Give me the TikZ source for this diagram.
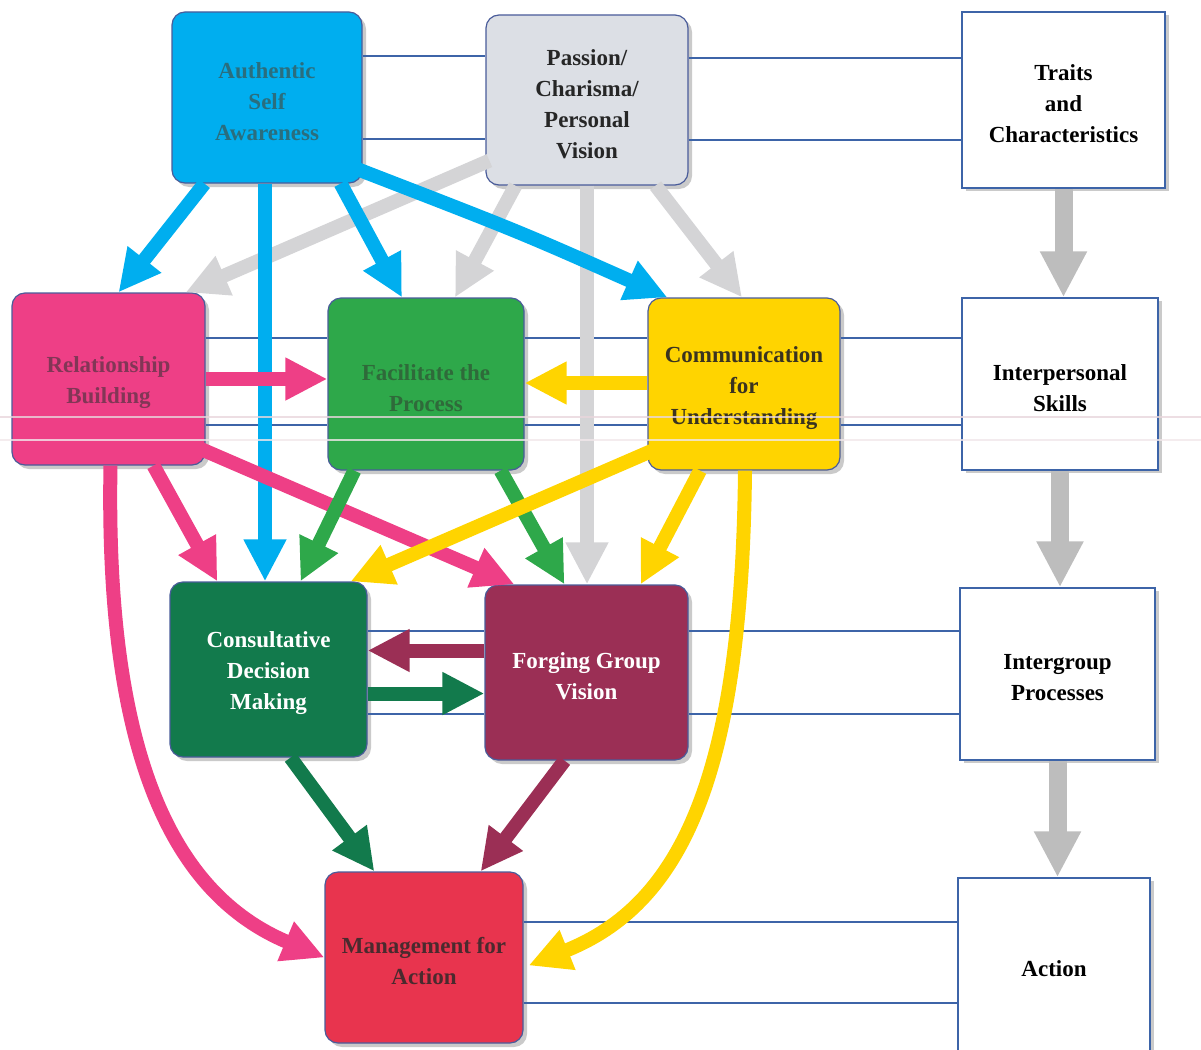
\documentclass[tikz,border=0pt]{standalone}
\usepackage{fontspec}
\setmainfont{Liberation Serif}
\usetikzlibrary{arrows.meta,calc,shadows}

\definecolor{cyanA}{HTML}{00AEEF}
\definecolor{greyBox}{HTML}{DCDFE5}
\definecolor{greyA}{HTML}{D4D4D6}
\definecolor{greyR}{HTML}{BDBDBD}
\definecolor{pinkA}{HTML}{EE3F86}
\definecolor{greenA}{HTML}{2EA84A}
\definecolor{yellowA}{HTML}{FFD400}
\definecolor{dgreenA}{HTML}{127A4C}
\definecolor{maroonA}{HTML}{9B2F55}
\definecolor{redA}{HTML}{E8344E}
\definecolor{lineBlue}{HTML}{3D64A8}
\definecolor{edgeBlue}{HTML}{4A5C9A}
\definecolor{txtCyan}{HTML}{2A6E7E}
\definecolor{txtPink}{HTML}{823656}
\definecolor{txtGreen}{HTML}{2F6A3A}
\definecolor{txtYellow}{HTML}{3A3320}
\definecolor{txtRed}{HTML}{4A2A2E}
\definecolor{scanLine}{HTML}{E8D6DC}

\begin{document}
\begin{tikzpicture}[x=1pt,y=-1pt,
  cbox/.style={rectangle, rounded corners=13pt, draw=edgeBlue, line width=1.2pt,
    drop shadow={shadow xshift=4pt, shadow yshift=-4pt, fill=black!35, opacity=.6}},
  wbox/.style={rectangle, draw=lineBlue, line width=1.5pt, fill=white,
    drop shadow={shadow xshift=4pt, shadow yshift=-3pt, fill=black!35, opacity=.6}},
  ctext/.style={text=#1, align=center, inner sep=0pt, yshift=-4pt,
    font=\fontsize{23}{31}\selectfont\bfseries},
  hline/.style={draw=lineBlue, line width=1.3pt},
  arr/.style={draw=#1, line width=14pt, -{Triangle[width=40pt,length=42pt]}},
  garr/.style={draw=greyR, line width=18pt, -{Triangle[width=44pt,length=46pt]}}
]
\useasboundingbox (0,0) rectangle (1201,1049);

% ---- boxes of the left-hand network ----
\node[cbox, fill=cyanA, minimum width=190pt, minimum height=171pt,
  label={[ctext=txtCyan]center:{Authentic\\Self\\Awareness}}] (ASA) at (267,97.5) {};
\node[cbox, fill=greyBox, minimum width=202pt, minimum height=170pt,
  label={[ctext=black!85]center:{Passion/\\Charisma/\\Personal\\Vision}}] (PCV) at (587,100) {};
\node[cbox, fill=pinkA, minimum width=193pt, minimum height=172pt,
  label={[ctext=txtPink]center:{Relationship\\Building}}] (RB) at (108.5,379) {};
\node[cbox, fill=greenA, minimum width=196pt, minimum height=172pt,
  label={[ctext=txtGreen]center:{Facilitate the\\Process}}] (FP) at (426,384) {};
\node[cbox, fill=yellowA, minimum width=192pt, minimum height=172pt,
  label={[ctext=txtYellow]center:{Communication\\for\\Understanding}}] (CU) at (744,384) {};
\node[cbox, fill=dgreenA, minimum width=197pt, minimum height=175pt,
  label={[ctext=white]center:{Consultative\\Decision\\Making}}] (CDM) at (268.5,669.5) {};
\node[cbox, fill=maroonA, minimum width=203pt, minimum height=175pt,
  label={[ctext=white]center:{Forging Group\\Vision}}] (FGV) at (586.5,672.5) {};
\node[cbox, fill=redA, minimum width=198pt, minimum height=171pt,
  label={[ctext=txtRed]center:{Management for\\Action}}] (MA) at (424,957.5) {};

% ---- level boxes on the right ----
\node[wbox, minimum width=203pt, minimum height=176pt,
  label={[ctext=black]center:{Traits\\and\\Characteristics}}] (TC) at (1063.5,100) {};
\node[wbox, minimum width=196pt, minimum height=172pt,
  label={[ctext=black]center:{Interpersonal\\Skills}}] (IS) at (1060,384) {};
\node[wbox, minimum width=195pt, minimum height=172pt,
  label={[ctext=black]center:{Intergroup\\Processes}}] (IGP) at (1057.5,674) {};
\node[wbox, minimum width=192pt, minimum height=174pt,
  label={[ctext=black]center:{Action}}] (ACT) at (1054,965) {};

% ---- thin guide lines tying each row to its level ----
\draw[hline] (ASA.east |- 0,56) -- (PCV.west |- 0,56);
\draw[hline] (ASA.east |- 0,139) -- (PCV.west |- 0,139);
\draw[hline] (PCV.east |- 0,58) -- (TC.west |- 0,58);
\draw[hline] (PCV.east |- 0,140) -- (TC.west |- 0,140);
\draw[hline] (RB.east |- 0,338) -- (FP.west |- 0,338);
\draw[hline] (RB.east |- 0,425) -- (FP.west |- 0,425);
\draw[hline] (FP.east |- 0,338) -- (CU.west |- 0,338);
\draw[hline] (FP.east |- 0,425) -- (CU.west |- 0,425);
\draw[hline] (CU.east |- 0,338) -- (IS.west |- 0,338);
\draw[hline] (CU.east |- 0,425) -- (IS.west |- 0,425);
\draw[hline] (CDM.east |- 0,631) -- (FGV.west |- 0,631);
\draw[hline] (CDM.east |- 0,714) -- (FGV.west |- 0,714);
\draw[hline] (FGV.east |- 0,631) -- (IGP.west |- 0,631);
\draw[hline] (FGV.east |- 0,714) -- (IGP.west |- 0,714);
\draw[hline] (MA.east |- 0,922) -- (ACT.west |- 0,922);
\draw[hline] (MA.east |- 0,1003) -- (ACT.west |- 0,1003);

% ---- level flow ----
\draw[garr] (TC.south) -- (TC.south |- IS.north);
\draw[garr] (IS.south) -- (IS.south |- IGP.north);
\draw[garr] (IGP.south) -- (IGP.south |- ACT.north);

% ---- from Passion / Charisma / Personal Vision ----
\draw[arr=greyA] ($(PCV.south west)+(4,-25)$) -- ($(RB.north east)+(-20,0)$);
\draw[arr=greyA] ($(PCV.south west)+(30,0)$) -- ($(FP.north)+(29,0)$);
\draw[arr=greyA] (PCV.south) -- (PCV.south |- FGV.north);
\draw[arr=greyA] ($(PCV.south east)+(-33,0)$) -- ($(CU.north)+(-2,0)$);

% ---- from Authentic Self Awareness ----
\draw[arr=cyanA] ($(ASA.south west)+(33,0)$) -- ($(RB.north)+(10,0)$);
\draw[arr=cyanA] ($(ASA.south)+(-2,0)$) -- ($(ASA.south |- CDM.north)+(-2,0)$);
\draw[arr=cyanA] ($(ASA.south east)+(-22,0)$) -- ($(FP.north)+(-24,0)$);
\draw[arr=cyanA] ($(ASA.south east)+(-4,-14)$) .. controls (520,232) .. ($(CU.north west)+(20,0)$);

% ---- from Relationship Building ----
\draw[arr=pinkA] (RB.east) -- (RB.east -| FP.west);
\draw[arr=pinkA] ($(RB.south)+(45,0)$) -- ($(CDM.north west)+(48,0)$);
\draw[arr=pinkA] ($(RB.south east)+(-8,-18)$) -- ($(FGV.north west)+(30,0)$);
\draw[arr=pinkA] ($(RB.south)+(2,0)$) .. controls (105,760) and (175,895) .. (MA.west);

% ---- from Facilitate the Process ----
\draw[arr=greenA] ($(FP.south west)+(27,0)$) -- ($(CDM.north)+(32,0)$);
\draw[arr=greenA] ($(FP.south east)+(-24,0)$) -- ($(FGV.north)+(-22,0)$);

% ---- from Communication for Understanding ----
\draw[arr=yellowA] ($(CU.west)+(0,-1)$) -- ($(CU.west -| FP.east)+(0,-1)$);
\draw[arr=yellowA] ($(CU.south west)+(5,-20)$) -- ($(CDM.north east)+(-17,0)$);
\draw[arr=yellowA] ($(CU.south)+(-44,0)$) -- ($(FGV.north east)+(-48,0)$);
\draw[arr=yellowA] ($(CU.south)+(1,0)$) .. controls (742,780) and (680,905) .. ($(MA.east)+(5,8)$);

% ---- between the group boxes ----
\draw[arr=maroonA] ($(FGV.west)+(0,-22)$) -- ($(FGV.west -| CDM.east)+(0,-22)$);
\draw[arr=dgreenA] ($(CDM.east)+(0,24)$) -- ($(CDM.east -| FGV.west)+(0,24)$);
\draw[arr=dgreenA] ($(CDM.south)+(22,0)$) -- ($(MA.north west)+(50,0)$);
\draw[arr=maroonA] ($(FGV.south)+(-22,0)$) -- ($(MA.north east)+(-43,0)$);

% ---- faint scan streaks across the sheet ----
\draw[scanLine, line width=1.5pt, opacity=.8] (0,417) -- (1201,417);
\draw[scanLine!60!white, line width=1.5pt, opacity=.8] (0,440) -- (1201,440);
\end{tikzpicture}
\end{document}
